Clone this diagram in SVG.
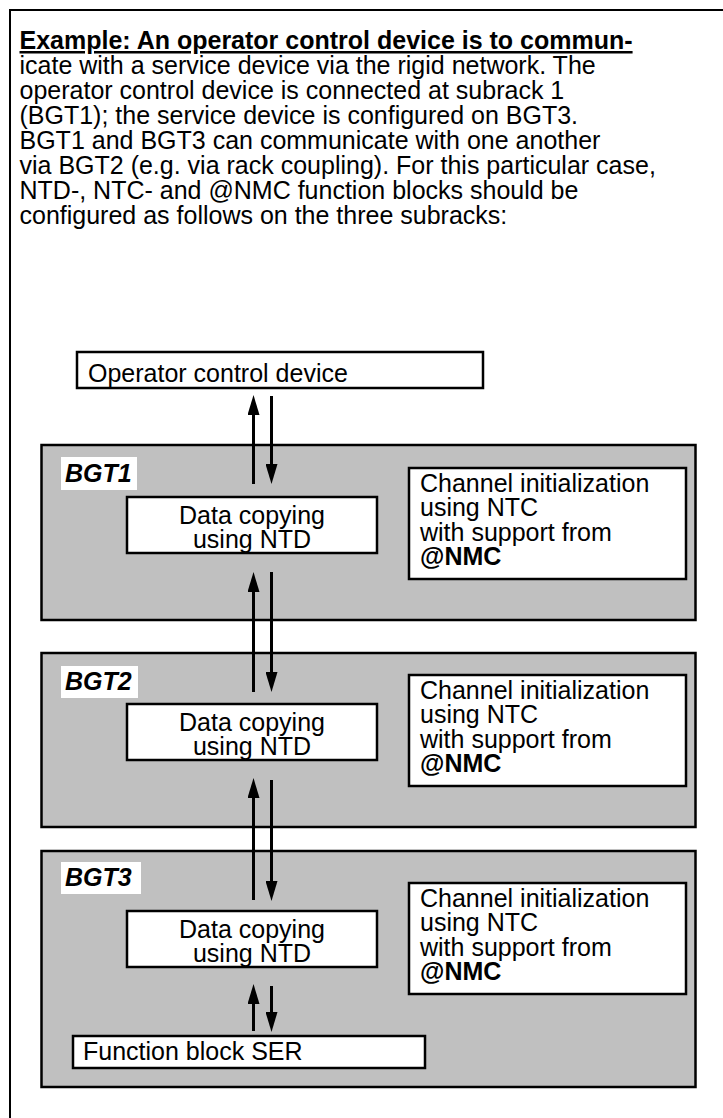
<svg xmlns="http://www.w3.org/2000/svg" width="723" height="1118" viewBox="0 0 723 1118">
  <defs>
    <marker id="ah" viewBox="0 0 20 12" markerWidth="20" markerHeight="12" markerUnits="userSpaceOnUse" refX="10" refY="6" orient="auto">
      <path d="M0,0 L20,6 L0,12 z" fill="#000"/>
    </marker>
    <style>
      text { font-family: "Liberation Sans", Arial, sans-serif; font-size: 25px; fill: #000; }
      .panel { fill: #c0c0c0; stroke: #000; stroke-width: 2.5; }
      .box { fill: #fff; stroke: #000; stroke-width: 2.5; }
      .lbl { fill: #fff; stroke: none; }
      .bgt { font-weight: bold; font-style: italic; }
      .b { font-weight: bold; }
      .mid { text-anchor: middle; }
      .arr { stroke: #000; stroke-width: 3; fill: none; marker-end: url(#ah); }
    </style>
  </defs>
  <rect width="723" height="1118" fill="#fff"/>
  <path d="M10,1118 V10 H723" fill="none" stroke="#000" stroke-width="2"/>

  <g id="intro">
    <text x="19.5" y="49" class="b" text-decoration="underline">Example: An operator control device is to commun-</text>
    <text x="19.5" y="74">icate with a service device via the rigid network. The</text>
    <text x="19.5" y="99">operator control device is connected at subrack 1</text>
    <text x="19.5" y="124">(BGT1); the service device is configured on BGT3.</text>
    <text x="19.5" y="149">BGT1 and BGT3 can communicate with one another</text>
    <text x="19.5" y="174">via BGT2 (e.g. via rack coupling). For this particular case,</text>
    <text x="19.5" y="199">NTD-, NTC- and @NMC function blocks should be</text>
    <text x="19.5" y="224">configured as follows on the three subracks:</text>
  </g>

  <g id="operator">
    <rect class="box" x="77" y="352" width="406" height="36"/>
    <text x="88" y="382">Operator control device</text>
  </g>

  <g id="bgt1">
    <rect class="panel" x="41.5" y="445" width="654" height="175"/>
    <rect class="lbl" x="61" y="457" width="76" height="33"/>
    <text x="65" y="482" class="bgt">BGT1</text>
    <g id="ntd1">
      <rect class="box" x="127" y="497" width="250" height="56"/>
      <text x="252" y="524" class="mid">Data copying</text>
      <text x="252" y="548" class="mid">using NTD</text>
    </g>
    <g id="ntc1">
      <rect class="box" x="409" y="468" width="277" height="111"/>
      <text x="420" y="492">Channel initialization</text>
      <text x="420" y="516.4">using NTC</text>
      <text x="420" y="540.8">with support from</text>
      <text x="420" y="565.2" class="b">@NMC</text>
    </g>
  </g>

  <g id="bgt2">
    <rect class="panel" x="41.5" y="653" width="654" height="174"/>
    <rect class="lbl" x="61" y="666" width="77" height="32"/>
    <text x="65" y="690" class="bgt">BGT2</text>
    <g id="ntd2">
      <rect class="box" x="127" y="704" width="250" height="56"/>
      <text x="252" y="731" class="mid">Data copying</text>
      <text x="252" y="755" class="mid">using NTD</text>
    </g>
    <g id="ntc2">
      <rect class="box" x="409" y="675" width="277" height="111"/>
      <text x="420" y="699">Channel initialization</text>
      <text x="420" y="723.4">using NTC</text>
      <text x="420" y="747.8">with support from</text>
      <text x="420" y="772.2" class="b">@NMC</text>
    </g>
  </g>

  <g id="bgt3">
    <rect class="panel" x="41.5" y="851" width="654" height="236"/>
    <rect class="lbl" x="61" y="862" width="80" height="32"/>
    <text x="65" y="886" class="bgt">BGT3</text>
    <g id="ntd3">
      <rect class="box" x="127" y="911" width="250" height="56"/>
      <text x="252" y="938" class="mid">Data copying</text>
      <text x="252" y="962" class="mid">using NTD</text>
    </g>
    <g id="ntc3">
      <rect class="box" x="409" y="883" width="277" height="111"/>
      <text x="420" y="907">Channel initialization</text>
      <text x="420" y="931.4">using NTC</text>
      <text x="420" y="955.8">with support from</text>
      <text x="420" y="980.2" class="b">@NMC</text>
    </g>
    <g id="ser">
      <rect class="box" x="73" y="1036" width="352" height="32"/>
      <text x="83" y="1060">Function block SER</text>
    </g>
  </g>

  <g id="connectors">
    <line class="arr" x1="253.5" y1="484" x2="253.5" y2="405"/>
    <line class="arr" x1="271.5" y1="396" x2="271.5" y2="474"/>
    <line class="arr" x1="253.5" y1="692" x2="253.5" y2="582"/>
    <line class="arr" x1="271.5" y1="572" x2="271.5" y2="682"/>
    <line class="arr" x1="253.5" y1="900" x2="253.5" y2="788"/>
    <line class="arr" x1="271.5" y1="780" x2="271.5" y2="891"/>
    <line class="arr" x1="253.5" y1="1031" x2="253.5" y2="994"/>
    <line class="arr" x1="271.5" y1="986" x2="271.5" y2="1022"/>
  </g>
</svg>
